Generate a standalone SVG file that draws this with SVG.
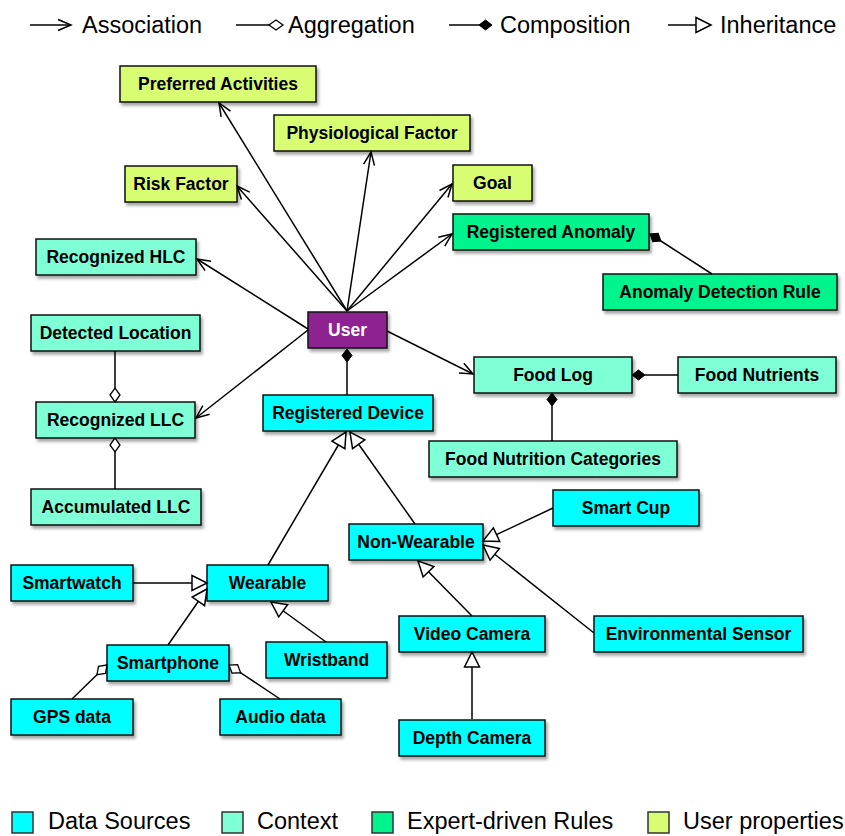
<svg xmlns="http://www.w3.org/2000/svg" width="845" height="836" viewBox="0 0 845 836">
<style>
.n rect{stroke:#111;stroke-width:1.5;filter:url(#sh)}
.n text{font-family:"Liberation Sans",Arial,sans-serif;font-weight:bold;font-size:17.5px;text-anchor:middle;fill:#000}
.ds{fill:#00FFFF}.cx{fill:#7FFFD6}.ex{fill:#00F48E}.up{fill:#D8FC72}.us{fill:#8E2391}
.e path{fill:none;stroke:#000;stroke-width:1.5}
.as{marker-end:url(#arr)}.ag{marker-end:url(#odia)}.co{marker-end:url(#fdia)}.in{marker-end:url(#tri)}
.lg{font-family:"Liberation Sans",Arial,sans-serif;font-size:23.5px;fill:#000}
.sq{stroke:#333;stroke-width:1.5}
</style>
<defs>
<filter id="sh" x="-10%" y="-20%" width="130%" height="160%">
<feDropShadow dx="2" dy="3" stdDeviation="1.8" flood-color="#000" flood-opacity="0.35"/>
</filter>
<marker id="arr" markerUnits="userSpaceOnUse" markerWidth="30" markerHeight="30" refX="0" refY="0" orient="auto" overflow="visible">
<path d="M-13,-5.5 L0,0 L-13,5.5" fill="none" stroke="#000" stroke-width="1.5"/>
</marker>
<marker id="tri" markerUnits="userSpaceOnUse" markerWidth="30" markerHeight="30" refX="0" refY="0" orient="auto" overflow="visible">
<path d="M-15,-7.5 L0,0 L-15,7.5 Z" fill="#fff" stroke="#000" stroke-width="1.5"/>
</marker>
<marker id="odia" markerUnits="userSpaceOnUse" markerWidth="30" markerHeight="30" refX="0" refY="0" orient="auto" overflow="visible">
<path d="M0,0 L-7,-5 L-14,0 L-7,5 Z" fill="#fff" stroke="#000" stroke-width="1.3"/>
</marker>
<marker id="fdia" markerUnits="userSpaceOnUse" markerWidth="30" markerHeight="30" refX="0" refY="0" orient="auto" overflow="visible">
<path d="M0,0 L-6.5,-5 L-13,0 L-6.5,5 Z" fill="#000" stroke="#000" stroke-width="1"/>
</marker>
</defs>
<rect width="845" height="836" fill="#fff"/>

<g id="legend-top">
<g class="e"><path class="as" d="M30,25 L71,25"/><path class="ag" d="M236,25 L283,25"/><path class="co" d="M449,25 L492,25"/><path class="in" d="M668,25 L711,25"/></g>
<text class="lg" x="82" y="33">Association</text>
<text class="lg" x="288" y="33">Aggregation</text>
<text class="lg" x="500" y="33">Composition</text>
<text class="lg" x="720" y="33">Inheritance</text>
</g>

<g id="nodes">
<g class="n" id="n-pa"><rect class="up" x="120" y="66" width="196" height="36"/><text x="218" y="90">Preferred Activities</text></g>
<g class="n" id="n-pf"><rect class="up" x="274" y="115" width="196" height="36"/><text x="372" y="139">Physiological Factor</text></g>
<g class="n" id="n-rf"><rect class="up" x="125" y="166" width="112" height="36"/><text x="181" y="190">Risk Factor</text></g>
<g class="n" id="n-goal"><rect class="up" x="453" y="165" width="79" height="36"/><text x="492.5" y="189">Goal</text></g>
<g class="n" id="n-ra"><rect class="ex" x="453" y="214" width="196" height="36"/><text x="551" y="238">Registered Anomaly</text></g>
<g class="n" id="n-adr"><rect class="ex" x="603" y="274" width="234" height="36"/><text x="720" y="298">Anomaly Detection Rule</text></g>
<g class="n" id="n-hlc"><rect class="cx" x="36" y="239" width="160" height="36"/><text x="116" y="263">Recognized HLC</text></g>
<g class="n" id="n-user"><rect class="us" x="308" y="312" width="79" height="36"/><text x="347.5" y="336" style="fill:#fff">User</text></g>
<g class="n" id="n-dl"><rect class="cx" x="31" y="315" width="169" height="36"/><text x="115.5" y="339">Detected Location</text></g>
<g class="n" id="n-llc"><rect class="cx" x="36" y="402" width="159" height="36"/><text x="115.5" y="426">Recognized LLC</text></g>
<g class="n" id="n-allc"><rect class="cx" x="31" y="489" width="170" height="36"/><text x="116" y="513">Accumulated LLC</text></g>
<g class="n" id="n-rd"><rect class="ds" x="263" y="395" width="170" height="36"/><text x="348" y="419">Registered Device</text></g>
<g class="n" id="n-fl"><rect class="cx" x="474" y="357" width="158" height="36"/><text x="553" y="381">Food Log</text></g>
<g class="n" id="n-fn"><rect class="cx" x="678" y="357" width="158" height="36"/><text x="757" y="381">Food Nutrients</text></g>
<g class="n" id="n-fnc"><rect class="cx" x="429" y="441" width="248" height="36"/><text x="553" y="465">Food Nutrition Categories</text></g>
<g class="n" id="n-sc"><rect class="ds" x="553" y="490" width="146" height="36"/><text x="626" y="514">Smart Cup</text></g>
<g class="n" id="n-nw"><rect class="ds" x="349" y="524" width="134" height="36"/><text x="416" y="548">Non-Wearable</text></g>
<g class="n" id="n-sw"><rect class="ds" x="11" y="565" width="122" height="36"/><text x="72" y="589">Smartwatch</text></g>
<g class="n" id="n-w"><rect class="ds" x="207" y="565" width="121" height="36"/><text x="267.5" y="589">Wearable</text></g>
<g class="n" id="n-es"><rect class="ds" x="594" y="616" width="209" height="36"/><text x="698.5" y="640">Environmental Sensor</text></g>
<g class="n" id="n-vc"><rect class="ds" x="399" y="616" width="146" height="36"/><text x="472" y="640">Video Camera</text></g>
<g class="n" id="n-sp"><rect class="ds" x="107" y="645" width="122" height="36"/><text x="168" y="669">Smartphone</text></g>
<g class="n" id="n-wb"><rect class="ds" x="266" y="642" width="121" height="36"/><text x="326.5" y="666">Wristband</text></g>
<g class="n" id="n-gps"><rect class="ds" x="11" y="699" width="122" height="36"/><text x="72" y="723">GPS data</text></g>
<g class="n" id="n-ad"><rect class="ds" x="220" y="699" width="121" height="36"/><text x="280.5" y="723">Audio data</text></g>
<g class="n" id="n-dc"><rect class="ds" x="399" y="720" width="146" height="36"/><text x="472" y="744">Depth Camera</text></g>
</g>

<g id="connectors" class="e">
<path class="as" d="M347,311 L219,103"/>
<path class="as" d="M347,311 L237,186"/>
<path class="as" d="M347,311 L371,152"/>
<path class="as" d="M347,311 L452,184"/>
<path class="as" d="M347,311 L452,234"/>
<path class="as" d="M308,329 L197,259"/>
<path class="as" d="M308,330 L196,418"/>
<path class="as" d="M387,331 L473,374"/>
<path class="co" d="M347,395 L347,349"/>
<path class="co" d="M712,274 L650,234"/>
<path class="co" d="M678,375 L632,375"/>
<path class="co" d="M552,441 L552,393"/>
<path class="ag" d="M115,351 L115,402"/>
<path class="ag" d="M115,489 L115,438"/>
<path class="ag" d="M72,699 L107,665"/>
<path class="ag" d="M280,699 L229,665"/>
<path class="in" d="M268,565 L346,432"/>
<path class="in" d="M415,524 L350,432"/>
<path class="in" d="M133,583 L207,583"/>
<path class="in" d="M168,645 L207,589"/>
<path class="in" d="M326,642 L271,602"/>
<path class="in" d="M553,508 L483,541"/>
<path class="in" d="M594,633 L483,545"/>
<path class="in" d="M472,616 L418,561"/>
<path class="in" d="M472,719 L472,652"/>
</g>

<g id="legend-bottom">
<rect class="sq ds" x="12" y="812" width="21" height="21"/>
<text class="lg" x="48" y="829">Data Sources</text>
<rect class="sq cx" x="222" y="812" width="21" height="21"/>
<text class="lg" x="257" y="829">Context</text>
<rect class="sq ex" x="372" y="812" width="21" height="21"/>
<text class="lg" x="407" y="829">Expert-driven Rules</text>
<rect class="sq up" x="648" y="812" width="21" height="21"/>
<text class="lg" x="683" y="829">User properties</text>
</g>
</svg>
